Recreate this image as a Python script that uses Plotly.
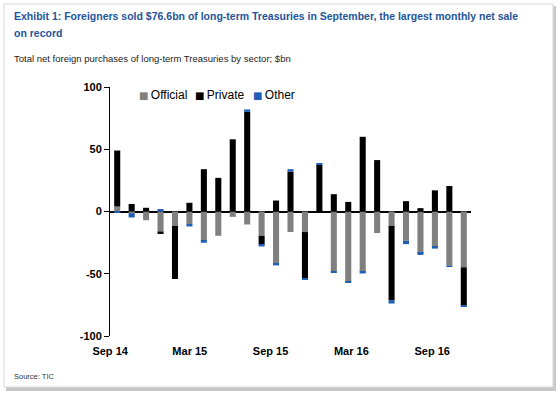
import plotly.graph_objects as go

months = ["Sep 14", "Oct 14", "Nov 14", "Dec 14", "Jan 15", "Feb 15", "Mar 15", "Apr 15",
          "May 15", "Jun 15", "Jul 15", "Aug 15", "Sep 15", "Oct 15", "Nov 15", "Dec 15",
          "Jan 16", "Feb 16", "Mar 16", "Apr 16", "May 16", "Jun 16", "Jul 16", "Aug 16", "Sep 16"]
official = [4, -1.3, -7, -16, -11.5, -10, -23.5, -19.5, -4.3, -10.4, -19.5, -41.3, -16.5,
            -16.5, 0, -48, -56.3, -48.5, -17.3, -11.5, -23.5, -33.3, -28.5, -44, -44.8]
private = [45, 6, 3, -2, -42.7, 7, 34, 27, 58, 80, -7, 8.8, 32, -37.3, 37.6, 13.9, 7.7,
           60, 41.3, -59.7, 8.3, 2.7, 17, 20.5, -30.7]
other = [-1, -3.5, 0, 2, 0, -2, -1.6, 0, 0, 2, -1.6, -2, 2, -1, 1, -1.3, -1, -1.3, 0,
         -2.7, -2.7, -1.6, -1.3, -0.5, -0.5]
tick_labels = ["Sep 14", "Mar 15", "Sep 15", "Mar 16", "Sep 16"]
y_ticks = [-100, -50, 0, 50, 100]

series_names = ["Official", "Private", "Other"]
series_colors = ["#808080", "#000000", "#1F5FB8"]

W, H = 560, 395
L, R, T, B = 110, 89, 87, 59
PW, PH = W - L - R, H - T - B

def px(x):
    return (x - L) / PW

def py(y):
    return (H - B - y) / PH

xi = list(range(len(months)))
# the source chart's date labels sit on a slightly narrower spacing than the bars
label_step = 5.595
tick_pos = [max(-0.49, -0.57 + label_step * k) for k in range(len(tick_labels))]

fig = go.Figure()
for name, vals, col in zip(series_names, [official, private, other], series_colors):
    fig.add_bar(x=xi, y=vals, name=name, marker_color=col, marker_line_width=0,
                customdata=months, hovertemplate="%{customdata}: %{y}<extra>" + name + "</extra>")

font = "Liberation Sans, Arial, sans-serif"
title_color = "#24559B"

legend_x = [137, 193, 251]
legend_ann = []
for name, col, lx in zip(series_names, series_colors, legend_x):
    legend_ann.append(dict(
        text=f"<span style='color:{col};font-size:10px;font-family:DejaVu Sans'>■</span>\u2009{name}",
        xref="paper", yref="paper", x=px(lx), y=py(95), xanchor="left", yanchor="middle",
        showarrow=False, font=dict(size=12, color="black", family=font)))

fig.update_layout(
    width=W, height=H,
    margin=dict(l=L, r=R, t=T, b=B, pad=0),
    paper_bgcolor="white", plot_bgcolor="white",
    barmode="relative", bargap=0.58,
    font=dict(family=font, color="black"),
    showlegend=False,
    xaxis=dict(range=[-0.5, len(months) - 0.5], tickmode="array",
               tickvals=tick_pos, ticktext=tick_labels,
               showline=False, ticks="", showgrid=False, zeroline=False,
               ticklabelstandoff=7,
               tickfont=dict(size=11, family=font, color="black", weight="bold")),
    yaxis=dict(range=[-100, 100], tickmode="array", tickvals=y_ticks,
               ticktext=[str(v) for v in y_ticks], showgrid=False,
               showline=True, linecolor="black", linewidth=1,
               ticks="outside", ticklen=5, tickcolor="black", tickwidth=1,
               zeroline=True, zerolinecolor="black", zerolinewidth=1.5,
               tickfont=dict(size=11, family=font, color="black", weight="bold")),
    shapes=[
        dict(type="rect", xref="paper", yref="paper", layer="below",
             x0=px(6), x1=px(556), y0=py(6), y1=py(391),
             fillcolor="#C8C8C8", line_width=0),
        dict(type="rect", xref="paper", yref="paper", layer="below",
             x0=px(4), x1=px(553), y0=py(4), y1=py(387),
             fillcolor="white", line=dict(color="#D8D8D8", width=1)),
    ],
    annotations=[
        dict(text="<b>Exhibit 1: Foreigners sold $76.6bn of long-term Treasuries in September, the largest monthly net sale</b>",
             xref="paper", yref="paper", x=px(12), y=py(16), xanchor="left", yanchor="middle",
             showarrow=False, font=dict(size=10.5, color=title_color, family=font)),
        dict(text="<b>on record</b>",
             xref="paper", yref="paper", x=px(12), y=py(33), xanchor="left", yanchor="middle",
             showarrow=False, font=dict(size=10.5, color=title_color, family=font)),
        dict(text="Total net foreign purchases of long-term Treasuries by sector; $bn",
             xref="paper", yref="paper", x=px(12), y=py(58), xanchor="left", yanchor="middle",
             showarrow=False, font=dict(size=9.5, color="#222222", family=font)),
        dict(text="Source: TIC",
             xref="paper", yref="paper", x=px(12), y=py(376), xanchor="left", yanchor="middle",
             showarrow=False, font=dict(size=7.5, color="#333333", family=font)),
    ] + legend_ann,
)

fig.write_html("out.html", config={"displayModeBar": False},
               post_script="document.body.style.margin='0';")
